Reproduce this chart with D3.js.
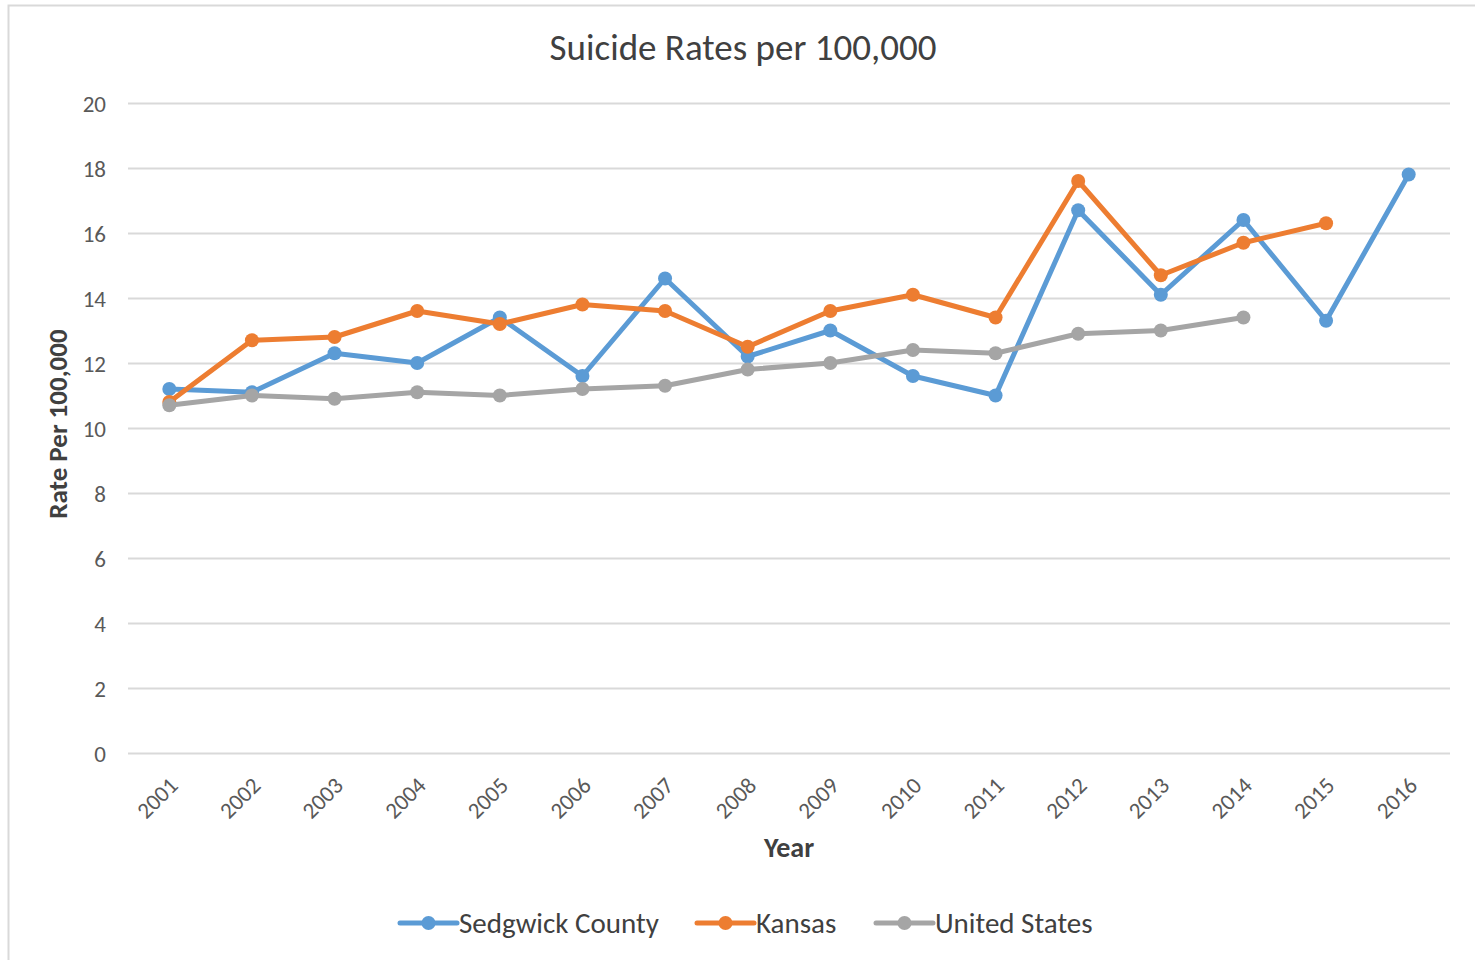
<!DOCTYPE html>
<html><head><meta charset="utf-8">
<script src="https://cdn.jsdelivr.net/npm/d3@7/dist/d3.min.js"></script>
<style>
html,body{margin:0;padding:0;background:#fff;}
svg text{font-family:Carlito,Calibri,Lato,"Open Sans",sans-serif;}
</style></head>
<body><svg id="c" width="1475" height="960"></svg>
<script>
const years = ["2001","2002","2003","2004","2005","2006","2007","2008","2009","2010","2011","2012","2013","2014","2015","2016"];
const sedgwick = [11.2,11.1,12.3,12.0,13.4,11.6,14.6,12.2,13.0,11.6,11.0,16.7,14.1,16.4,13.3,17.8];
const kansas = [10.8,12.7,12.8,13.6,13.2,13.8,13.6,12.5,13.6,14.1,13.4,17.6,14.7,15.7,16.3,null];
const unitedStates = [10.7,11.0,10.9,11.1,11.0,11.2,11.3,11.8,12.0,12.4,12.3,12.9,13.0,13.4,null,null];
const yTicks = [0,2,4,6,8,10,12,14,16,18,20];
const seriesNames = ["Sedgwick County","Kansas","United States"];
const seriesColors = ["#5B9BD5","#ED7D31","#A5A5A5"];

const svg = d3.select("#c");
svg.append("rect").attr("x",8.5).attr("y",5.5).attr("width",1480).attr("height",970)
  .attr("fill","#fff").attr("stroke","#D9D9D9").attr("stroke-width",2);

const pLeft=128, pRight=1450, pTop=103, pBottom=753;
const x = d3.scaleBand().domain(years).range([pLeft,pRight]);
const y = d3.scaleLinear().domain([0,20]).range([pBottom,pTop]);
const ff = "Carlito,Calibri,Lato,'Open Sans',sans-serif";

// gridlines
svg.append("g").selectAll("line").data(yTicks).join("line")
  .attr("x1",pLeft).attr("x2",pRight)
  .attr("y1",d=>Math.round(y(d))+0.5).attr("y2",d=>Math.round(y(d))+0.5)
  .attr("stroke","#D9D9D9").attr("stroke-width",2);

// y axis labels
const yAxis = d3.axisLeft(y).tickValues(yTicks).tickSize(0).tickPadding(22);
const gy = svg.append("g").attr("transform",`translate(${pLeft},0)`).call(yAxis);
gy.select(".domain").remove();
gy.selectAll("text").attr("font-size",23).attr("fill","#595959").attr("dy","0.35em")
  .style("font-family",ff);

// x axis labels
const xAxis = d3.axisBottom(x).tickSize(0).tickPadding(0);
const gx = svg.append("g").attr("transform",`translate(0,${pBottom})`).call(xAxis);
gx.select(".domain").remove();
gx.selectAll("text").attr("font-size",23).attr("fill","#595959")
  .attr("text-anchor","end").attr("dy",0).attr("y",0)
  .attr("transform","translate(10,34) rotate(-45)")
  .style("font-family",ff);

// title
svg.append("text").attr("x",743).attr("y",60).attr("text-anchor","middle")
  .attr("font-size",37).attr("fill","#404040").text("Suicide Rates per 100,000");
// axis titles
svg.append("text").attr("x",789).attr("y",857).attr("text-anchor","middle")
  .attr("font-size",28).attr("font-weight","bold").attr("fill","#404040").text("Year");
svg.append("text").attr("transform","translate(67,424) rotate(-90)").attr("text-anchor","middle")
  .attr("font-size",27).attr("font-weight","bold").attr("fill","#404040").text("Rate Per 100,000");

const allSeries = [sedgwick,kansas,unitedStates];
const line = d3.line().defined(d=>d.v!=null).x(d=>x(d.k)+x.bandwidth()/2).y(d=>y(d.v));
allSeries.forEach((vals,i)=>{
  const data = years.map((k,j)=>({k,v:vals[j]}));
  const g = svg.append("g");
  g.append("path").datum(data).attr("d",line).attr("fill","none")
    .attr("stroke",seriesColors[i]).attr("stroke-width",5).attr("stroke-linejoin","round").attr("stroke-linecap","round");
  g.selectAll("circle").data(data.filter(d=>d.v!=null)).join("circle")
    .attr("cx",d=>x(d.k)+x.bandwidth()/2).attr("cy",d=>y(d.v)).attr("r",7)
    .attr("fill",seriesColors[i]);
});

// legend
const legX = [400,697,876];
const lg = svg.append("g");
seriesNames.forEach((n,i)=>{
  const gg = lg.append("g").attr("transform",`translate(${legX[i]},923)`);
  gg.append("line").attr("x1",0).attr("x2",57).attr("y1",0).attr("y2",0)
    .attr("stroke",seriesColors[i]).attr("stroke-width",5).attr("stroke-linecap","round");
  gg.append("circle").attr("cx",28.5).attr("cy",0).attr("r",7).attr("fill",seriesColors[i]);
  gg.append("text").attr("x",59).attr("y",0).attr("dy","0.35em").attr("font-size",29)
    .attr("fill","#404040").text(n);
});
</script></body></html>
